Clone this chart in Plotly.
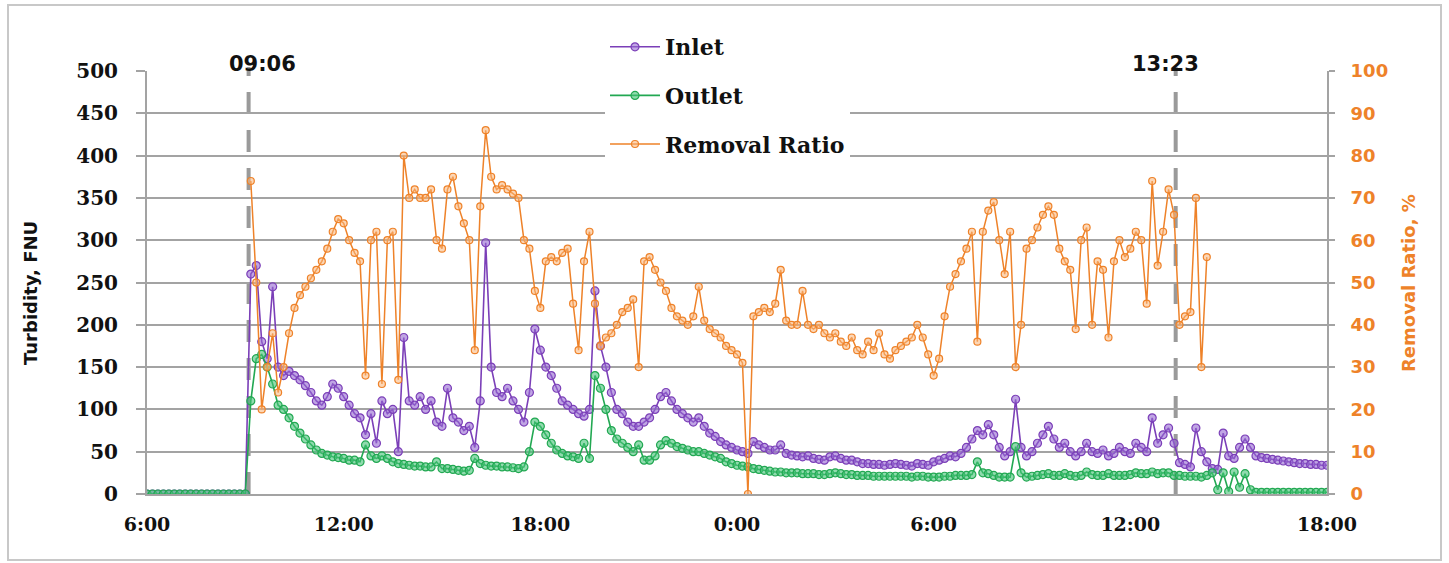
import pandas as pd
import plotly.graph_objects as go

# ---------------- data (10-min sampling) ----------------
times = pd.date_range("2021-01-01 06:00", "2021-01-02 18:00", freq="10min")

inlet = (
    [0] * 19 +                                   # 06:00 - 09:00
    [260, 270, 180, 160, 245] +                  # 09:10 - 09:50
    [150, 140, 145, 140, 135, 128] +             # 10
    [120, 110, 105, 115, 130, 125] +             # 11
    [115, 105, 95, 90, 70, 95] +                 # 12
    [60, 110, 95, 100, 50, 185] +                # 13
    [110, 105, 115, 100, 110, 85] +              # 14
    [80, 125, 90, 85, 75, 80] +                  # 15
    [55, 110, 297, 150, 120, 115] +              # 16
    [125, 110, 100, 85, 120, 195] +              # 17
    [170, 150, 140, 125, 110, 105] +             # 18
    [100, 95, 92, 100, 240, 175] +               # 19
    [150, 120, 100, 95, 85, 80] +                # 20
    [80, 85, 90, 100, 115, 120] +                # 21
    [110, 100, 95, 90, 85, 90] +                 # 22
    [80, 72, 68, 62, 58, 55] +                   # 23
    [52, 50, 48, 62, 58, 55] +                   # 0
    [52, 52, 58, 48, 46, 45] +                   # 1
    [44, 45, 42, 41, 40, 44] +                   # 2
    [45, 42, 40, 40, 38, 36] +                   # 3
    [36, 35, 35, 34, 35, 36] +                   # 4
    [35, 34, 33, 36, 35, 34] +                   # 5
    [38, 40, 42, 45, 44, 48] +                   # 6
    [55, 65, 75, 70, 82, 70] +                   # 7
    [55, 45, 50, 112, 55, 45] +                  # 8
    [50, 60, 70, 80, 65, 55] +                   # 9
    [60, 50, 45, 50, 60, 50] +                   # 10
    [48, 52, 45, 48, 55, 50] +                   # 11
    [48, 60, 55, 50, 90, 60] +                   # 12
    [70, 78, 60, 37, 35, 32] +                   # 13
    [78, 50, 38, 30, 29, 72] +                   # 14
    [45, 42, 55, 65, 55, 45] +                   # 15
    [43, 42, 41, 40, 39, 38] +                   # 16
    [37, 36, 36, 35, 35, 34] +                   # 17
    [34]                                         # 18:00
)

outlet = (
    [0] * 19 +
    [110, 160, 165, 150, 130] +
    [105, 100, 90, 80, 72, 65] +
    [58, 52, 48, 46, 44, 43] +
    [42, 40, 40, 38, 58, 45] +
    [42, 45, 42, 38, 36, 35] +
    [34, 33, 33, 32, 32, 38] +
    [30, 30, 29, 28, 27, 28] +
    [42, 36, 34, 33, 33, 32] +
    [32, 31, 30, 32, 50, 85] +
    [80, 70, 60, 52, 48, 45] +
    [44, 42, 60, 42, 140, 125] +
    [100, 75, 65, 60, 55, 50] +
    [58, 40, 40, 45, 58, 63] +
    [60, 56, 54, 52, 50, 50] +
    [48, 46, 44, 42, 38, 36] +
    [34, 33, 32, 30, 29, 28] +
    [27, 26, 26, 25, 25, 25] +
    [24, 24, 24, 23, 23, 24] +
    [25, 24, 23, 23, 22, 22] +
    [22, 21, 21, 21, 21, 21] +
    [21, 21, 20, 21, 21, 20] +
    [20, 20, 21, 21, 22, 22] +
    [22, 23, 38, 25, 24, 22] +
    [20, 20, 20, 56, 25, 20] +
    [21, 22, 23, 24, 22, 22] +
    [24, 22, 21, 22, 26, 23] +
    [22, 22, 24, 22, 22, 22] +
    [23, 25, 24, 24, 26, 24] +
    [25, 25, 22, 22, 21, 21] +
    [21, 20, 22, 25, 5, 25] +
    [3, 26, 8, 24, 5, 2] +
    [2] * 13
)

removal_ratio = (
    [None] * 19 +
    [74, 50, 20, 30, 38] +
    [24, 30, 38, 44, 47, 49] +
    [51, 53, 55, 58, 62, 65] +
    [64, 60, 57, 55, 28, 60] +
    [62, 26, 60, 62, 27, 80] +
    [70, 72, 70, 70, 72, 60] +
    [58, 72, 75, 68, 64, 60] +
    [34, 68, 86, 75, 72, 73] +
    [72, 71, 70, 60, 58, 48] +
    [44, 55, 56, 55, 57, 58] +
    [45, 34, 55, 62, 45, 35] +
    [37, 38, 40, 43, 44, 46] +
    [30, 55, 56, 53, 50, 48] +
    [44, 42, 41, 40, 42, 49] +
    [41, 39, 38, 37, 35, 34] +
    [33, 31, 0, 42, 43, 44] +
    [43, 45, 53, 41, 40, 40] +
    [48, 40, 39, 40, 38, 37] +
    [38, 36, 35, 37, 34, 33] +
    [36, 34, 38, 33, 32, 34] +
    [35, 36, 37, 40, 37, 33] +
    [28, 32, 42, 49, 52, 55] +
    [58, 62, 36, 62, 67, 69] +
    [60, 52, 62, 30, 40, 58] +
    [60, 63, 66, 68, 66, 58] +
    [55, 53, 39, 60, 63, 40] +
    [55, 53, 37, 55, 60, 56] +
    [58, 62, 60, 45, 74, 54] +
    [62, 72, 66, 40, 42, 43] +
    [70, 30, 56] +
    [None] * 22
)

event_times = ["2021-01-01 09:06", "2021-01-02 13:23"]
event_labels = ["09:06", "13:23"]

assert len(inlet) == len(times) == len(outlet) == len(removal_ratio)

# ---------------- styling ----------------
PURPLE = "#7B3FB8"
GREEN = "#22A852"
ORANGE = "#EE8229"
GRID = "#A3A3A3"
SERIF = "DejaVu Serif"
SANS = "DejaVu Sans"

fig = go.Figure()
fig.add_trace(go.Scatter(
    x=times, y=inlet, name="Inlet", mode="lines+markers", legendgroup="a",
    line=dict(color=PURPLE, width=1.6),
    marker=dict(size=8, color="rgba(150,105,210,0.6)", line=dict(color=PURPLE, width=1.2)),
))
fig.add_trace(go.Scatter(
    x=times, y=outlet, name="Outlet", mode="lines+markers", legendgroup="b",
    line=dict(color=GREEN, width=1.6),
    marker=dict(size=8, color="rgba(70,195,120,0.6)", line=dict(color=GREEN, width=1.2)),
))
fig.add_trace(go.Scatter(
    x=times, y=removal_ratio, name="Removal Ratio", mode="lines+markers", legendgroup="c",
    yaxis="y2", connectgaps=False,
    line=dict(color=ORANGE, width=1.5),
    marker=dict(size=7, color="rgba(250,180,120,0.55)", line=dict(color=ORANGE, width=1.2)),
))

L, R, T, B = 147, 122, 71, 69
W, H = 1449, 563
PW, PH = W - L - R, H - T - B


def px_x(p):
    return (p - L) / PW


def px_y(p):
    return (H - B - p) / PH


shapes = []
for et in event_times:
    shapes.append(dict(type="line", xref="x", yref="paper", x0=et, x1=et,
                       y0=0, y1=px_y(67), layer="between",
                       line=dict(color="#9A9A9A", width=4, dash="22px,16px")))
shapes.append(dict(type="rect", xref="paper", yref="paper",
                   x0=px_x(8), x1=px_x(1441), y0=px_y(560), y1=px_y(5),
                   line=dict(color="#C8C8C8", width=2), layer="below"))

annotations = []
for et, lab, sh in zip(event_times, event_labels, [14, -10]):
    annotations.append(dict(x=et, xref="x", y=px_y(50), yref="paper", text=lab,
                            showarrow=False, xshift=sh,
                            font=dict(family=SANS, size=21, color="#111", weight="bold")))
annotations.append(dict(x=px_x(30), y=px_y(293), xref="paper", yref="paper",
                        xanchor="center", yanchor="middle",
                        text="Turbidity, FNU", textangle=-90, showarrow=False,
                        font=dict(family=SANS, size=18, color="#111", weight="bold")))
annotations.append(dict(x=px_x(1408), y=px_y(283), xref="paper", yref="paper",
                        xanchor="center", yanchor="middle",
                        text="Removal Ratio, %", textangle=-90, showarrow=False,
                        font=dict(family=SANS, size=18, color=ORANGE, weight="bold")))

fig.update_layout(
    width=W, height=H,
    margin=dict(l=L, r=R, t=T, b=B, pad=0),
    paper_bgcolor="white", plot_bgcolor="white",
    showlegend=True,
    legend=dict(x=px_x(605), y=px_y(26), xanchor="left", yanchor="top",
                bgcolor="white", borderwidth=0, tracegroupgap=17,
                traceorder="grouped", itemwidth=50,
                font=dict(family=SERIF, size=22, color="#111", weight="bold")),
    xaxis=dict(type="date", range=["2021-01-01 06:00", "2021-01-02 18:00"],
               tick0="2021-01-01 06:00", dtick=6 * 3600 * 1000, tickformat="%-H:%M",
               showgrid=False, showline=True, linecolor=GRID, linewidth=2,
               ticks="", ticklabelstandoff=12, zeroline=False,
               tickfont=dict(family=SERIF, size=19, color="#111", weight="bold")),
    yaxis=dict(range=[0, 500], dtick=50, showgrid=True, gridcolor=GRID, gridwidth=2,
               showline=True, linecolor=GRID, linewidth=2, zeroline=False,
               ticks="outside", ticklen=9, tickwidth=2, tickcolor=GRID,
               ticklabelstandoff=14,
               tickfont=dict(family=SERIF, size=20, color="#111", weight="bold")),
    yaxis2=dict(range=[0, 100], dtick=10, overlaying="y", side="right",
                showgrid=False, showline=True, linecolor=GRID, linewidth=2,
                zeroline=False, ticks="outside", ticklen=6, tickwidth=2, tickcolor=GRID,
                ticklabelstandoff=12,
                tickfont=dict(family=SANS, size=18, color=ORANGE, weight="bold")),
    shapes=shapes,
    annotations=annotations,
)

fig.write_html("out.html", config={"displayModeBar": False},
               post_script="document.body.style.margin='0';")
